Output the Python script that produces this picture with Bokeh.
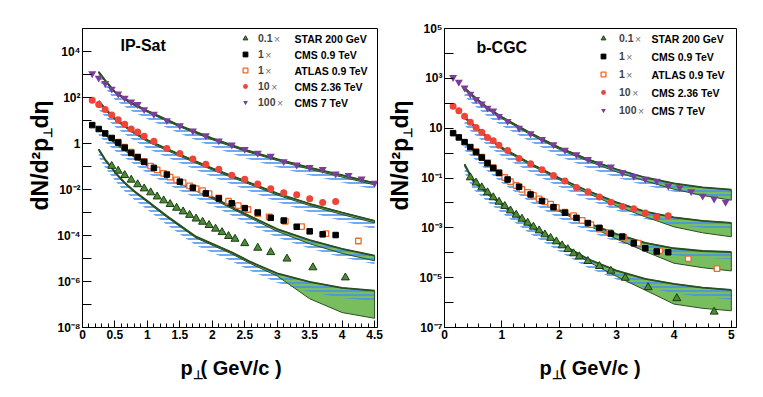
from math import pi
from bokeh.plotting import figure
from bokeh.layouts import row, column
from bokeh.models import FixedTicker, Label, Legend, LegendItem, Range1d
from bokeh.embed import file_html
from bokeh.resources import INLINE

# ---------------- data (pT in GeV/c ; values given as log10 of scaled dN/d2pT deta) ----------------
star_pt = [0.45, 0.55, 0.65, 0.75, 0.85, 0.95, 1.05, 1.15, 1.25, 1.35, 1.45, 1.55, 1.65, 1.75,
           1.85, 1.95, 2.05, 2.15, 2.25, 2.35, 2.5, 2.7, 2.9, 3.15, 3.55, 4.05, 4.7]
star_log = [-0.98, -1.19, -1.38, -1.58, -1.78, -1.96, -2.13, -2.31, -2.48, -2.64, -2.80, -2.96, -3.11, -3.27,
            -3.41, -3.55, -3.71, -3.86, -4.03, -4.15, -4.34, -4.54, -4.73, -5.01, -5.39, -5.83, -6.37]

cms09_pt = [0.15, 0.25, 0.35, 0.45, 0.55, 0.65, 0.75, 0.85, 0.95, 1.1, 1.3, 1.5, 1.7, 1.9, 2.1,
            2.3, 2.5, 2.7, 2.9, 3.1, 3.3, 3.5, 3.7, 3.9]
cms09_log = [0.80, 0.63, 0.44, 0.24, 0.04, -0.18, -0.41, -0.60, -0.80, -1.06, -1.35, -1.66, -1.92, -2.17, -2.39,
             -2.60, -2.81, -3.00, -3.23, -3.35, -3.62, -3.82, -3.95, -3.98]

atlas_pt = [0.55, 0.65, 0.75, 0.85, 0.95, 1.05, 1.15, 1.25, 1.35, 1.45, 1.55, 1.65, 1.75, 1.85, 1.95,
            2.1, 2.25, 2.4, 2.55, 2.7, 2.875, 3.125, 3.375, 3.75, 4.25, 4.75]
atlas_log = [0.06, -0.16, -0.38, -0.58, -0.78, -0.98, -1.15, -1.30, -1.46, -1.58, -1.70, -1.84, -1.96, -2.05, -2.18,
             -2.37, -2.51, -2.70, -2.87, -3.05, -3.19, -3.38, -3.61, -3.92, -4.24, -4.64]

cms236_pt = [0.15, 0.25, 0.35, 0.45, 0.55, 0.65, 0.75, 0.85, 0.95, 1.1, 1.3, 1.5, 1.7, 1.9, 2.1,
             2.3, 2.5, 2.7, 2.9, 3.1, 3.3, 3.5, 3.7, 3.9]
cms236_log = [1.88, 1.70, 1.48, 1.24, 1.03, 0.84, 0.63, 0.50, 0.31, 0.10, -0.22, -0.43, -0.67, -0.90, -1.12,
              -1.38, -1.55, -1.76, -1.97, -2.14, -2.23, -2.40, -2.57, -2.52]

cms7_pt = [0.15, 0.25, 0.35, 0.45, 0.55, 0.65, 0.75, 0.85, 0.95, 1.1, 1.3, 1.5, 1.7, 1.9, 2.1,
           2.3, 2.5, 2.7, 2.9, 3.1, 3.3, 3.5, 3.7, 3.9, 4.1, 4.3, 4.5, 4.7, 4.9]
cms7_log = [3.04, 2.85, 2.62, 2.37, 2.16, 1.98, 1.81, 1.70, 1.48, 1.28, 1.00, 0.78, 0.55, 0.34, 0.12,
            -0.06, -0.25, -0.42, -0.55, -0.78, -0.93, -1.04, -1.12, -1.32, -1.38, -1.54, -1.72, -1.84, -1.97]

scale_factors = ["0.1", "1", "1", "10", "100"]
set_names = ["STAR 200 GeV", "CMS 0.9 TeV", "ATLAS 0.9 TeV", "CMS 2.36 TeV", "CMS 7 TeV"]

# ---- IP-Sat theory bands (upper edge, lower edge of green band, lower edge of blue band) ----
ipsat_x = [0.25, 0.35, 0.5, 0.75, 1.0, 1.5, 2.0, 2.5, 3.0, 3.5, 4.0, 4.5]
ipsat_cms7_hi = [3.12, 2.75, 2.25, 1.78, 1.42, 0.78, 0.22, -0.27, -0.68, -1.05, -1.38, -1.72]
ipsat_cms7_lo = [3.06, 2.69, 2.19, 1.72, 1.36, 0.72, 0.16, -0.33, -0.74, -1.12, -1.46, -1.80]
ipsat_cms7_blue = [2.75, 2.40, 1.90, 1.42, 1.06, 0.43, -0.14, -0.63, -1.03, -1.38, -1.70, -2.00]
ipsat_cms236_hi = [1.85, 1.52, 1.10, 0.58, 0.15, -0.48, -1.08, -1.62, -2.17, -2.62, -3.00, -3.36]
ipsat_cms236_lo = [1.78, 1.45, 1.03, 0.51, 0.08, -0.55, -1.15, -1.69, -2.24, -2.70, -3.09, -3.45]
ipsat_cms236_blue = [1.48, 1.15, 0.73, 0.21, -0.22, -0.85, -1.45, -1.99, -2.54, -2.99, -3.37, -3.73]
ipsat_cms09_hi = [0.72, 0.42, 0.05, -0.45, -0.92, -1.68, -2.33, -3.05, -3.72, -4.20, -4.58, -4.88]
ipsat_cms09_lo = [0.66, 0.36, -0.01, -0.51, -0.98, -1.74, -2.40, -3.12, -3.82, -4.36, -4.78, -5.10]
ipsat_cms09_blue = [0.35, 0.05, -0.32, -0.82, -1.29, -2.05, -2.70, -3.42, -4.09, -4.57, -4.95, -5.25]
ipsat_star_x = [0.25, 0.35, 0.45, 0.55, 0.65, 0.8, 1.0, 1.3, 1.75, 2.3, 2.6, 3.0, 3.5, 4.0, 4.5]
ipsat_star_hi = [-0.25, -0.70, -1.05, -1.40, -1.70, -2.07, -2.50, -3.15, -4.05, -4.73, -5.16, -5.65, -6.02, -6.28, -6.40]
ipsat_star_lo = [-0.30, -0.75, -1.10, -1.45, -1.75, -2.12, -2.55, -3.21, -4.11, -4.80, -5.24, -5.76, -6.75, -7.35, -7.60]
ipsat_star_blue = [-0.60, -1.05, -1.42, -1.78, -2.08, -2.45, -2.88, -3.53, -4.43, -5.12, -5.55, -6.05, -6.45, -6.72, -6.85]

# ---- b-CGC theory bands ----
bcgc_x = [0.35, 0.5, 0.75, 1.0, 1.5, 2.0, 2.5, 3.0, 3.5, 4.0, 4.5, 5.0]
bcgc_cms7_hi = [2.62, 2.30, 1.82, 1.45, 0.80, 0.22, -0.25, -0.65, -0.98, -1.22, -1.38, -1.47]
bcgc_cms7_lo = [2.56, 2.24, 1.76, 1.39, 0.74, 0.15, -0.32, -0.76, -1.12, -1.45, -1.70, -1.89]
bcgc_cms7_blue = [2.27, 1.95, 1.47, 1.10, 0.45, -0.13, -0.60, -0.98, -1.30, -1.55, -1.72, -1.82]
bcgc_cms236_hi = [1.45, 1.15, 0.65, 0.22, -0.42, -1.00, -1.52, -1.98, -2.35, -2.58, -2.72, -2.80]
bcgc_cms236_lo = [1.39, 1.09, 0.59, 0.16, -0.48, -1.07, -1.62, -2.12, -2.56, -2.96, -3.20, -3.36]
bcgc_cms236_blue = [1.10, 0.80, 0.30, -0.13, -0.77, -1.35, -1.87, -2.30, -2.65, -2.88, -3.00, -3.08]
bcgc_cms09_hi = [0.45, 0.15, -0.38, -0.85, -1.63, -2.28, -2.80, -3.25, -3.60, -3.82, -3.93, -3.97]
bcgc_cms09_lo = [0.39, 0.09, -0.44, -0.91, -1.69, -2.34, -2.90, -3.45, -3.95, -4.42, -4.60, -4.73]
bcgc_cms09_blue = [0.10, -0.20, -0.73, -1.20, -1.98, -2.63, -3.13, -3.57, -3.90, -4.10, -4.20, -4.25]
bcgc_star_hi = [-0.45, -1.10, -1.60, -2.05, -2.90, -3.60, -4.25, -4.72, -5.05, -5.25, -5.40, -5.49]
bcgc_star_lo = [-0.51, -1.16, -1.66, -2.11, -2.96, -3.66, -4.35, -4.95, -5.50, -6.06, -6.23, -6.33]
bcgc_star_blue = [-0.80, -1.45, -1.95, -2.40, -3.25, -3.95, -4.60, -5.07, -5.40, -5.62, -5.78, -5.88]

# ---------------- styling ----------------
FONT = "Liberation Sans"
GREEN_FILL = "#78bd5e"
GREEN_LINE = "#2b4f20"
BLUE_HATCH = "#3f8ff0"
SUP = str.maketrans("-0123456789", "\u207b\u2070\u00b9\u00b2\u00b3\u2074\u2075\u2076\u2077\u2078\u2079")
ROW_H = 347
LEG_FS = 10.5


def pw(vals):
    return [10.0 ** v for v in vals]


def dec_label(e):
    if e == 0:
        return "1"
    if e == 1:
        return "10"
    return "10" + str(e).translate(SUP)


def blank_fig(width, height):
    f = figure(width=width, height=height, output_backend="svg", toolbar_location=None,
               x_axis_location=None, y_axis_location=None, x_range=Range1d(0, 1), y_range=Range1d(0, 1),
               min_border_left=0, min_border_right=0, min_border_top=0, min_border_bottom=0)
    f.xgrid.visible = False
    f.ygrid.visible = False
    f.outline_line_color = None
    f.background_fill_color = "white"
    f.border_fill_color = "white"
    return f


def txt(f, x, y, text, size, angle=0.0, align="left", baseline="middle", style="bold", color="black"):
    f.add_layout(Label(x=x, y=y, x_units="screen", y_units="screen", text=text, angle=angle,
                       text_align=align, text_baseline=baseline, text_font=FONT,
                       text_font_style=style, text_font_size=size, text_color=color))


def ytitle_fig(width, xc):
    f = blank_fig(width, ROW_H)
    yb = 97 + 20  # frame bottom of panel is 20 px above this figure's bottom
    txt(f, xc, yb, "dN/d\u00b2p", "23px", angle=pi / 2)
    txt(f, xc + 8, yb + 73, "\u22a5", "12px", angle=pi / 2)
    txt(f, xc, yb + 82, "d\u03b7", "23px", angle=pi / 2)
    return f


def add_band(p, x, hi, lo, blue):
    xs = list(x) + list(x)[::-1]
    ys = pw(hi) + pw(lo)[::-1]
    p.patch(xs, ys, fill_color=GREEN_FILL, line_color=None)
    p.varea(x=x, y1=pw(blue), y2=pw(hi), fill_alpha=0, hatch_pattern="-",
            hatch_color=BLUE_HATCH, hatch_scale=4, hatch_weight=1.6, hatch_alpha=0.95)
    p.patch(xs, ys, fill_alpha=0, line_color=GREEN_LINE, line_width=1.0)
    p.line(x, pw(hi), line_color=GREEN_LINE, line_width=1.8)


def text_w(s, fs):
    em = {"0": 0.556, "1": 0.556, ".": 0.278}
    return sum(em.get(c, 0.556) for c in s) * fs


def make_panel(width, bl, br, bt, frame_h, xmax, ylo, yhi, xmajor, xminor, label_parity,
               title, title_xy, bands, leg_loc, leg_spacing, leg_standoff, names_x, row_y0, row_dy):
    p = figure(width=width, height=ROW_H, y_axis_type="log", output_backend="svg",
               toolbar_location=None, x_range=Range1d(0, xmax),
               y_range=Range1d(10.0 ** ylo, 10.0 ** yhi),
               min_border_left=bl, min_border_right=br, min_border_top=bt, min_border_bottom=ROW_H - bt - frame_h)
    p.xgrid.visible = False
    p.ygrid.visible = False
    p.outline_line_color = "black"
    p.outline_line_width = 1
    p.background_fill_color = "white"
    p.border_fill_color = "white"

    exps = list(range(ylo, yhi + 1))
    p.yaxis.ticker = FixedTicker(ticks=[10.0 ** e for e in exps])
    p.yaxis.major_label_overrides = {10.0 ** e: (dec_label(e) if (e % 2 == label_parity) else "")
                                     for e in exps}
    p.xaxis.ticker = FixedTicker(ticks=xmajor, minor_ticks=xminor)
    for ax in (p.xaxis, p.yaxis):
        ax.axis_line_color = "black"
        ax.major_tick_line_color = "black"
        ax.minor_tick_line_color = "black"
        ax.major_tick_out = 0
        ax.minor_tick_out = 0
        ax.major_label_text_font = FONT
        ax.major_label_text_font_style = "bold"
        ax.major_label_text_font_size = "12px"
        ax.major_label_text_color = "black"
    p.yaxis.major_tick_in = 9
    p.yaxis.major_label_standoff = 2
    p.xaxis.major_tick_in = 7
    p.xaxis.minor_tick_in = 4
    p.xaxis.major_label_standoff = 2

    for (bx, hi, lo, blue) in bands:
        add_band(p, bx, hi, lo, blue)

    r_star = p.scatter(star_pt, pw(star_log), marker="triangle", size=8,
                       fill_color="#4b8c36", line_color="#1c3a12", line_width=1)
    r_atlas = p.scatter(atlas_pt, pw(atlas_log), marker="square", size=5.5,
                        fill_color="white", line_color="#ee6a2c", line_width=1.3)
    r_cms09 = p.scatter(cms09_pt, pw(cms09_log), marker="square", size=5.5,
                        fill_color="black", line_color="black")
    r_cms236 = p.scatter(cms236_pt, pw(cms236_log), marker="circle", size=7,
                         fill_color="#f0443a", line_color=None)
    r_cms7 = p.scatter(cms7_pt, pw(cms7_log), marker="inverted_triangle", size=8,
                       fill_color="#7b3c9a", line_color=None)

    rends = [r_star, r_cms09, r_atlas, r_cms236, r_cms7]
    items = [LegendItem(label=lab, renderers=[r]) for lab, r in zip(scale_factors, rends)]
    leg = Legend(items=items, location=leg_loc, padding=0, margin=0, spacing=leg_spacing,
                 glyph_width=12, glyph_height=12, label_height=12, label_standoff=leg_standoff,
                 border_line_alpha=0, background_fill_alpha=0,
                 label_text_font=FONT, label_text_font_style="bold",
                 label_text_font_size=f"{LEG_FS}px")
    p.add_layout(leg)
    label_x0 = leg_loc[0] + 12 + leg_standoff
    for i, (fac, nm) in enumerate(zip(scale_factors, set_names)):
        yy = row_y0 - i * row_dy
        txt(p, label_x0 + text_w(fac, LEG_FS) + 1, yy, "\u00d7", f"{LEG_FS}px",
            style="normal", color="#777777")
        txt(p, names_x, yy, nm, f"{LEG_FS}px")
    txt(p, title_xy[0], title_xy[1], title, "16px")
    return p


def xtitle_fig(width, starts):
    f = blank_fig(width, 34)
    for x0 in starts:
        txt(f, x0, 14, "p", "20px", baseline="alphabetic")
        txt(f, x0 + 12, 7, "\u22a5", "12px", baseline="alphabetic")
        txt(f, x0 + 20, 14, "( GeV/c )", "20px", baseline="alphabetic")
    return f


left_major = [0, 0.5, 1, 1.5, 2, 2.5, 3, 3.5, 4, 4.5]
left_minor = [i / 10 for i in range(0, 46) if i % 5 != 0]
right_major = [0, 1, 2, 3, 4, 5]
right_minor = [i / 5 for i in range(0, 26) if i % 5 != 0]

yt1 = ytitle_fig(54, 39)
p1 = make_panel(width=331, bl=28, br=8, bt=28, frame_h=299, xmax=4.545, ylo=-8, yhi=5,
                xmajor=left_major, xminor=left_minor, label_parity=0,
                title="IP-Sat", title_xy=(38, 282),
                bands=[(ipsat_star_x, ipsat_star_hi, ipsat_star_lo, ipsat_star_blue),
                       (ipsat_x, ipsat_cms09_hi, ipsat_cms09_lo, ipsat_cms09_blue),
                       (ipsat_x, ipsat_cms236_hi, ipsat_cms236_lo, ipsat_cms236_blue),
                       (ipsat_x, ipsat_cms7_hi, ipsat_cms7_lo, ipsat_cms7_blue)],
                leg_loc=(157, 219), leg_spacing=4, leg_standoff=7, names_x=212, row_y0=289, row_dy=16)
yt2 = ytitle_fig(31, 14)
p2 = make_panel(width=331, bl=27, br=11, bt=27, frame_h=300, xmax=5.09, ylo=-7, yhi=5,
                xmajor=right_major, xminor=right_minor, label_parity=1,
                title="b-CGC", title_xy=(32, 280),
                bands=[(bcgc_x, bcgc_star_hi, bcgc_star_lo, bcgc_star_blue),
                       (bcgc_x, bcgc_cms09_hi, bcgc_cms09_lo, bcgc_cms09_blue),
                       (bcgc_x, bcgc_cms236_hi, bcgc_cms236_lo, bcgc_cms236_blue),
                       (bcgc_x, bcgc_cms7_hi, bcgc_cms7_lo, bcgc_cms7_blue)],
                leg_loc=(153, 211), leg_spacing=6, leg_standoff=10, names_x=207, row_y0=289, row_dy=18)
xt = xtitle_fig(747, [180, 539])

layout = column(row(yt1, p1, yt2, p2), xt)
open("out.html", "w").write(file_html(layout, INLINE))
